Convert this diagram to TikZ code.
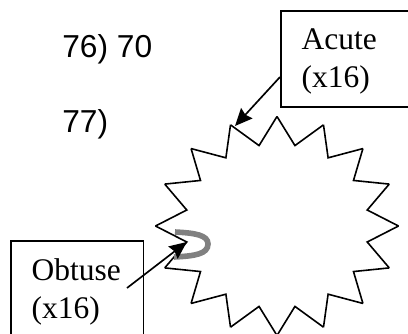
\documentclass[tikz,border=0pt]{standalone}
\usepackage{fontspec}
\setmainfont{Liberation Serif}
\setsansfont{Liberation Sans}
\usetikzlibrary{arrows.meta}
\tikzset{
  anglebox/.style={draw=black, line width=1.2pt, rectangle, anchor=north west, align=left,
    inner xsep=15.7pt, inner ysep=0pt, font=\fontsize{23.6}{28.5}\selectfont},
  pointer/.style={line width=1.25pt, -{Stealth[length=13pt, width=11.5pt, inset=1.5pt]}},
  question/.style={anchor=base west, inner sep=0pt, font=\sffamily\fontsize{23.8}{28}\selectfont}
}
\begin{document}
\begin{tikzpicture}[x=0.75pt, y=-0.75pt]
        \useasboundingbox (0,0) rectangle (408,333);
        \clip (0,0) rectangle (408,333);

        \node[question] (q76) at (62,57) {76) 70};
        \node[question] (q77) at (62,132) {77)};

        % outer tips and inner corners of the star
        \foreach \i in {0,...,15} {
            \coordinate (tip\i) at ({277+121.5*cos(22.5*\i)},{226-109.5*sin(22.5*\i)});
            \coordinate (dent\i) at ({277+92*cos(22.5*\i+11.25)},{226-82*sin(22.5*\i+11.25)});
        }
        \foreach \i [evaluate=\i as \j using {int(mod(\i+1,16))}] in {0,...,15} {
            \draw[black, line width=1.2pt, line join=miter] (tip\i) -- (dent\i) -- (tip\j);
        }

        % grey mark in the dent
        \draw[gray, line width=4.2pt] (175,232) .. controls (195,233) and (208,235) .. (208,244)
            .. controls (208,254) and (195,256) .. (174,257);

        \node[anglebox, text width=76pt, minimum height=72pt] (acute) at (280,10) {\rule{0pt}{19pt}Acute\\(x16)};
        \node[anglebox, text width=68pt, minimum height=76pt] (obtuse) at (10,240) {Obtuse\\(x16)};

        \coordinate (acutefrom) at (280,77);
        \coordinate (acuteto) at (235,126);
        \coordinate (obtusefrom) at (127,288);

        \draw[pointer] (acutefrom) -- (acuteto);
        \draw[pointer] (obtusefrom) -- (dent8);
    \end{tikzpicture}
\end{document}
